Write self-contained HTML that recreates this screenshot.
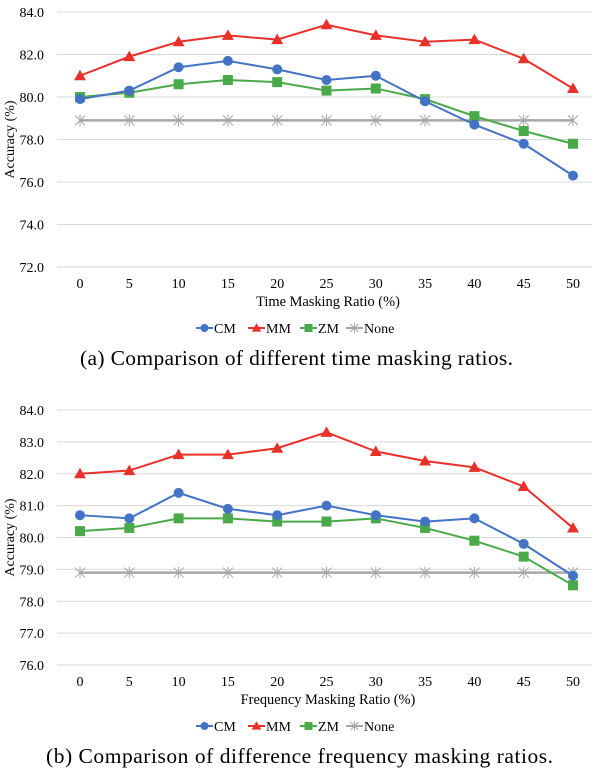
<!DOCTYPE html>
<html><head><meta charset="utf-8"><style>
body{margin:0;background:#fff;}
svg{display:block;font-family:"Liberation Serif",serif;}
</style></head><body>
<svg id="svg" width="600" height="770"></svg>
<script>
const xCats=[0,5,10,15,20,25,30,35,40,45,50];
const aCM=[79.9,80.3,81.4,81.7,81.3,80.8,81.0,79.8,78.7,77.8,76.3];
const aMM=[81.0,81.9,82.6,82.9,82.7,83.4,82.9,82.6,82.7,81.8,80.4];
const aZM=[80.0,80.2,80.6,80.8,80.7,80.3,80.4,79.9,79.1,78.4,77.8];
const aNone=[78.9,78.9,78.9,78.9,78.9,78.9,78.9,78.9,78.9,78.9,78.9];
const aTicks=[72,74,76,78,80,82,84];
const bCM=[80.7,80.6,81.4,80.9,80.7,81.0,80.7,80.5,80.6,79.8,78.8];
const bMM=[82.0,82.1,82.6,82.6,82.8,83.3,82.7,82.4,82.2,81.6,80.3];
const bZM=[80.2,80.3,80.6,80.6,80.5,80.5,80.6,80.3,79.9,79.4,78.5];
const bNone=[78.9,78.9,78.9,78.9,78.9,78.9,78.9,78.9,78.9,78.9,78.9];
const bTicks=[76,77,78,79,80,81,82,83,84];
const NS="http://www.w3.org/2000/svg";
const svg=document.getElementById('svg');
function mk(tag,attrs,parent){const e=document.createElementNS(NS,tag);for(const k in attrs)e.setAttribute(k,attrs[k]);(parent||svg).appendChild(e);return e;}
function txt(s,attrs,parent){const e=mk('text',attrs,parent);e.textContent=s;return e;}
const COL={CM:'#4472c4',MM:'#e8312a',ZM:'#4aaa4a',None:'#a6a6a6'};
function marker(g,type,x,y,s){
  s=s||1;
  let m;
  if(type==='CM')m=mk('circle',{cx:x,cy:y,r:5*s,fill:COL.CM},g);
  else if(type==='MM')m=mk('polygon',{points:`${x},${y-6*s} ${x+6*s},${y+4.5*s} ${x-6*s},${y+4.5*s}`,fill:COL.MM},g);
  else if(type==='ZM')m=mk('rect',{x:x-5*s,y:y-5*s,width:10*s,height:10*s,fill:COL.ZM},g);
  else{m=mk('path',{d:`M${x-5*s},${y-5*s}L${x+5*s},${y+5*s}M${x-5*s},${y+5*s}L${x+5*s},${y-5*s}M${x},${y-6*s}L${x},${y+6*s}`,stroke:COL.None,'stroke-width':1,fill:'none'},g);}
  
  
}
function chart(o){
  const g=mk('g',{});
  
  
  const xs=v=>80+(v-xCats[0])*(493/50);
  const ys=v=>o.y0+(o.tmax-v)*(o.y1-o.y0)/(o.tmax-o.tmin);
  o.ticks.forEach(t=>{
    const l=mk('line',{x1:57,x2:592,y1:ys(t),y2:ys(t),stroke:'#d9d9d9','stroke-width':1},g);
    
    
    const tl=txt(t.toFixed(1),{x:44,y:ys(t)+5,'text-anchor':'end','font-size':14,fill:'#000'},g);
    
    
  });
  xCats.forEach(c=>{
    const tl=txt(String(c),{x:xs(c),y:o.y1+21,'text-anchor':'middle','font-size':14},g);
    
    
  });
  const yt=txt('Accuracy (%)',{transform:`translate(14,${(o.y0+o.y1)/2}) rotate(-90)`,'text-anchor':'middle','font-size':14},g);
  
  
  const xt=txt(o.xtitle,{x:328,y:o.y1+39,'text-anchor':'middle','font-size':14.4},g);
  
  
  const series=[['None',o.none,2.5],['ZM',o.zm,2],['CM',o.cm,2],['MM',o.mm,2]];
  series.forEach(([n,d,w])=>{
    const sg=mk('g',{},g);
    
    
    const p=mk('polyline',{points:d.map((v,i)=>xs(xCats[i])+','+ys(v)).join(' '),fill:'none',stroke:COL[n],'stroke-width':w},sg);
    
    
    d.forEach((v,i)=>marker(sg,n,xs(xCats[i]),ys(v)));
  });
  const lg=mk('g',{},g);
  
  
  const ly=o.y1+61;
  [['CM',196,214],['MM',248,266],['ZM',300,318],['None',346,364]].forEach(([n,mx,tx])=>{
    const eg=mk('g',{},lg);
    
    
    mk('line',{x1:mx,x2:mx+17,y1:ly,y2:ly,stroke:COL[n],'stroke-width':2},eg);
    marker(eg,n,mx+8.5,ly,0.8);
    txt(n,{x:tx,y:ly+5,'font-size':14},eg);
  });
  const cap=txt(o.caption,{x:o.capx,y:o.y1+98,'font-size':o.capfs,textLength:o.capw,lengthAdjust:'spacing'},g);
  
  
}
chart({name:'chart-time-masking',y0:12,y1:267,tmin:72,tmax:84,ticks:aTicks,cm:aCM,mm:aMM,zm:aZM,none:aNone,xtitle:'Time Masking Ratio (%)',caption:'(a)  Comparison of different time masking ratios.',capx:80,capfs:21.5,capw:433});
chart({name:'chart-frequency-masking',y0:410,y1:665,tmin:76,tmax:84,ticks:bTicks,cm:bCM,mm:bMM,zm:bZM,none:bNone,xtitle:'Frequency Masking Ratio (%)',caption:'(b)  Comparison of difference frequency masking ratios.',capx:46,capfs:21.5,capw:507});
</script>
</body></html>
